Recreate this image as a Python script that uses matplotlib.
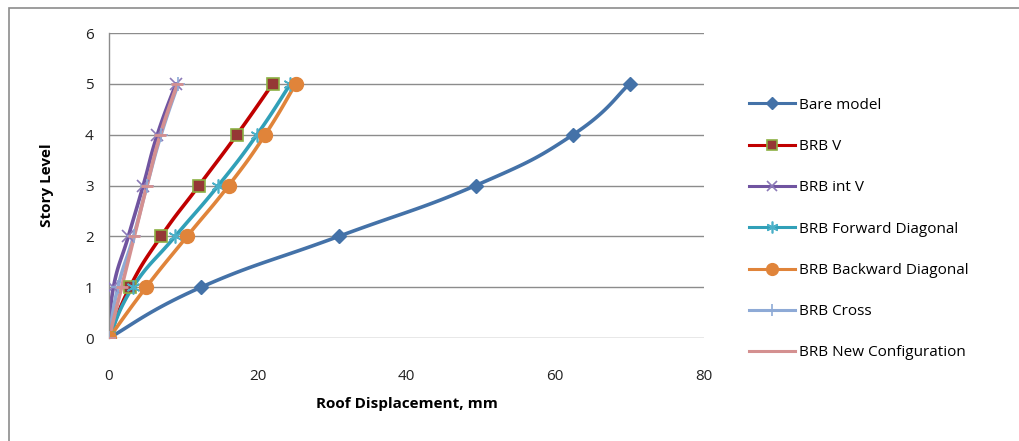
import numpy as np
import matplotlib
matplotlib.use("Agg")
import matplotlib.pyplot as plt
from matplotlib.patches import Rectangle

plt.rcParams['font.family'] = ['Open Sans', 'DejaVu Sans']

levels = [0, 1, 2, 3, 4, 5]

bare_model = [0, 12.4, 30.9, 49.3, 62.4, 70.0]
brb_v = [0, 2.8, 7.0, 12.1, 17.2, 22.0]
brb_int_v = [0, 0.6, 2.6, 4.6, 6.5, 9.0]
brb_forward = [0, 3.2, 8.9, 14.7, 19.9, 24.4]
brb_backward = [0, 5.0, 10.5, 16.1, 21.0, 25.1]
brb_cross = [0, 1.2, 3.3, 5.1, 7.0, 9.3]
brb_new = [0, 1.7, 3.4, 5.1, 6.9, 9.2]

series_names = ["Bare model", "BRB V", "BRB int V", "BRB Forward Diagonal",
                "BRB Backward Diagonal", "BRB Cross", "BRB New Configuration"]

x_ticks = [0, 20, 40, 60, 80]
y_ticks = [0, 1, 2, 3, 4, 5, 6]


def smooth(xs, ys, n=20, tension=0.35):
    """Cardinal curve through the points, like a smoothed spreadsheet line."""
    p = np.column_stack([xs, ys]).astype(float)
    p = np.vstack([p[0], p, p[-1]])
    out = []
    t = np.linspace(0, 1, n, endpoint=False)[:, None]
    for i in range(1, len(p) - 2):
        p0, p1, p2, p3 = p[i - 1], p[i], p[i + 1], p[i + 2]
        c1 = p1 + (p2 - p0) * tension / 1.5
        c2 = p2 - (p3 - p1) * tension / 1.5
        seg = ((1 - t) ** 3) * p1 + 3 * ((1 - t) ** 2) * t * c1 \
            + 3 * (1 - t) * t ** 2 * c2 + t ** 3 * p2
        out.append(seg)
    out.append(p[-2][None, :])
    out = np.vstack(out)
    return out[:, 0], out[:, 1]


styles = [
    dict(data=bare_model, color="#4472a8", marker="D", ms=7, mfc="#4472a8", mec="#4472a8", mew=1),
    dict(data=brb_v, color="#c00000", marker="s", ms=9, mfc="#953735", mec="#8cb043", mew=1.2),
    dict(data=brb_int_v, color="#7054a0", marker="x", ms=9, mfc="#7054a0", mec="#8c7ab8", mew=1.2),
    dict(data=brb_forward, color="#31a0b8", marker=(6, 2, 0), ms=10, mfc="#31a0b8", mec="#4bb0c8", mew=1.2),
    dict(data=brb_backward, color="#e0843a", marker="o", ms=10, mfc="#e0843a", mec="#e0843a", mew=1),
    dict(data=brb_cross, color="#8eaad6", marker="+", ms=10, mfc="#8eaad6", mec="#8eaad6", mew=1.2),
    dict(data=brb_new, color="#d49090", marker="_", ms=8, mfc="#d49090", mec="#d49090", mew=2),
]

fig = plt.figure(figsize=(10.2, 4.41), dpi=100)
fig.patch.set_facecolor("white")

# chart frame
fig.patches.append(Rectangle((9 / 1020, -0.05), 1.2, (441 - 8) / 441 + 0.05,
                             transform=fig.transFigure, fill=False,
                             edgecolor="#8c8c8c", linewidth=1.2))

ax = fig.add_axes([109 / 1020, 1 - 338 / 441, (704 - 109) / 1020, (338 - 33) / 441])

for name, st in zip(series_names, styles):
    sx, sy = smooth(st["data"], levels)
    ax.plot(sx, sy, color=st["color"], lw=2.6, solid_capstyle="round", zorder=2)
    ax.plot(st["data"], levels, linestyle="none", marker=st["marker"], markersize=st["ms"],
            markerfacecolor=st["mfc"], markeredgecolor=st["mec"], markeredgewidth=st["mew"],
            zorder=3)
    ax.plot([], [], color=st["color"], lw=2.2, marker=st["marker"], markersize=st["ms"] * 0.85,
            markerfacecolor=st["mfc"], markeredgecolor=st["mec"], markeredgewidth=st["mew"],
            label=name)

ax.set_xlim(0, 80)
ax.set_ylim(0, 6)
ax.set_xticks(x_ticks)
ax.set_yticks(y_ticks)
ax.yaxis.grid(True, color="#8c8c8c", linewidth=1)
ax.set_axisbelow(True)
for s in ["top", "right", "bottom"]:
    ax.spines[s].set_visible(False)
ax.spines["left"].set_color("#8c8c8c")
ax.spines["left"].set_linewidth(1)
ax.tick_params(length=0, labelsize=11, colors="#222222")
ax.tick_params(axis="y", pad=11)
ax.tick_params(axis="x", pad=22)
ax.set_xlabel("Roof Displacement, mm", fontsize=11, fontweight="bold", labelpad=10)
ax.set_ylabel("Story Level", fontsize=11, fontweight="bold", labelpad=22)

leg = fig.legend(loc="upper left", bbox_to_anchor=(735 / 1020, 1 - 84 / 441),
                 frameon=False, fontsize=11, labelspacing=1.72, handlelength=3.0,
                 handletextpad=0.3)

fig.savefig("out.png", dpi=100, facecolor="white")
